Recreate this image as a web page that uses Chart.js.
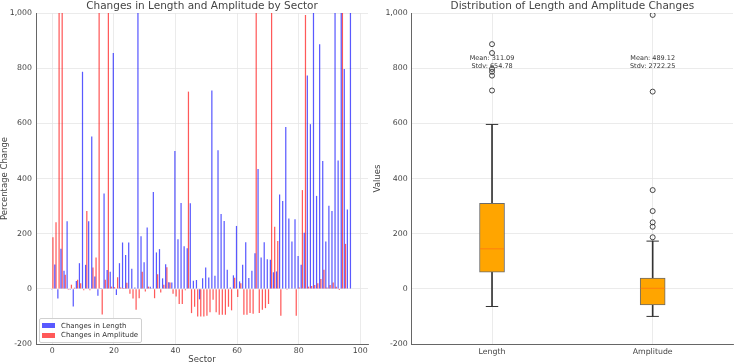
<!DOCTYPE html>
<html>
<head>
<meta charset="utf-8">
<script src="https://cdn.jsdelivr.net/npm/chart.js@4.4.1/dist/chart.umd.min.js"></script>
<style>
  body { margin: 0; background: #fff; width: 746px; height: 364px; overflow: hidden; font-family: "DejaVu Sans", sans-serif; }
  #leftBox { position: absolute; left: 0; top: 0; width: 373px; height: 364px; }
  #rightBox { position: absolute; left: 373px; top: 0; width: 373px; height: 364px; }
  #legend { position: absolute; left: 39px; top: 318px; padding: 2px 3px 2px 0;
            border: 1px solid #d0d0d0; border-radius: 2px; background: rgba(255,255,255,0.85);
            font-size: 7px; color: #333; white-space: nowrap; }
  #legend .item { display: flex; align-items: center; height: 9.5px; }
  #legend .sw { width: 13px; height: 5px; margin: 0 6px 0 2px; flex: none; }
</style>
</head>
<body>
<div id="leftBox"><canvas id="sectorChart" width="373" height="364"></canvas></div>
<div id="rightBox"><canvas id="boxChart" width="373" height="364"></canvas></div>
<div id="legend"></div>
<script>
// sector data (values above 1000 are cut off by the axis)
const sectors = [0,1,2,3,4,5,6,7,8,9,10,11,12,13,14,15,16,17,18,19,20,21,22,23,24,25,26,27,28,29,
  30,31,32,33,34,35,36,37,38,39,40,41,42,43,44,45,46,47,48,49,50,51,52,53,54,55,56,57,58,59,
  60,61,62,63,64,65,66,67,68,69,70,71,72,73,74,75,76,77,78,79,80,81,82,83,84,85,86,87,88,89,
  90,91,92,93,94,95,96,97];

const lengthChange = [-2,88,-35,145,66,245,-3,-64,28,93,787,87,245,552,45,-25,3,346,68,62,
  855,-22,93,168,123,168,73,5,1500,191,96,222,8,351,132,144,38,89,24,23,
  500,180,311,154,147,310,29,32,-38,38,77,41,719,47,502,271,246,69,5,49,
  228,27,87,169,39,66,129,434,114,169,107,105,60,63,342,318,587,255,172,252,
  119,87,203,773,597,1500,337,887,463,172,301,282,1500,465,1500,797,288,1500];

const amplitudeChange = [187,241,1500,1500,51,-3,15,4,33,20,-5,282,-5,77,114,1500,-93,33,1500,8,
  6,42,5,3,22,-18,-35,-76,-34,62,-10,8,2,-34,53,-13,15,78,23,-18,
  -28,-55,-55,-5,715,-88,-65,-100,-100,-100,-98,-85,-40,-85,-94,-94,-94,-65,-78,40,
  -30,20,-94,-94,-88,-90,1500,-88,-76,-70,-55,1500,225,173,-98,0,-3,0,0,-98,
  5,358,993,8,10,14,20,36,69,5,14,23,8,-4,1500,163,0,0];

const yTicks = [-200, 0, 200, 400, 600, 800, 1000];
const sectorTicks = [0, 20, 40, 60, 80, 100];

// box plot summary
const boxLabels = ['Length', 'Amplitude'];
const boxQ1 = [60, -58];
const boxMedian = [145, 2];
const boxQ3 = [310, 39];
const whiskerLow = [-64, -100];
const whiskerHigh = [596, 173];
const outliersLength = [719, 773, 787, 797, 855, 887];
const outliersAmplitude = [187, 225, 241, 282, 358, 715, 993];
const meanLabels = ['Mean: 311.09', 'Mean: 489.12'];
const stdvLabels = ['Stdv: 654.78', 'Stdv: 2722.25'];

Chart.defaults.font.family = '"DejaVu Sans", sans-serif';
Chart.defaults.color = '#444';
Chart.defaults.animation = false;

const gridColor = '#e6e6e6';
const axisColor = '#666';
const tickFont = { size: 7.8 };
const axisTitleFont = { size: 8.5 };
const blue = 'rgba(0, 0, 255, 0.65)';
const red = 'rgba(255, 0, 0, 0.65)';

function yScale(titleText, width) {
  return {
    min: -200, max: 1000,
    afterBuildTicks: s => { s.ticks = yTicks.map(v => ({ value: v })); },
    afterFit: s => { s.width = width; },
    ticks: { font: tickFont, color: '#444', padding: 4 },
    grid: { color: gridColor, drawTicks: false, lineWidth: 0.8 },
    border: { color: axisColor, width: 1 },
    title: { display: true, text: titleText, font: axisTitleFont, color: '#444', padding: 0 }
  };
}

// left: bars by sector
const sectorChart = new Chart(document.getElementById('sectorChart'), {
  type: 'bar',
  data: {
    labels: sectors,
    datasets: [
      { label: 'Changes in Length', data: lengthChange, backgroundColor: blue, borderWidth: 0 },
      { label: 'Changes in Amplitude', data: amplitudeChange, backgroundColor: red, borderWidth: 0 }
    ]
  },
  options: {
    responsive: false,
    layout: { padding: { right: 5 } },
    categoryPercentage: 0.8,
    barPercentage: 1.0,
    plugins: {
      legend: { display: false },
      tooltip: { enabled: false },
      title: { display: true, text: 'Changes in Length and Amplitude by Sector', fullSize: false,
               font: { size: 10.5, weight: 'normal' }, color: '#444', padding: { top: 0, bottom: 0.4 } }
    },
    scales: {
      x: {
        type: 'linear', min: -5.3, max: 102.5, offset: false,
        afterBuildTicks: s => { s.ticks = sectorTicks.map(v => ({ value: v })); },
        afterFit: s => { s.height = 20; },
        ticks: { font: tickFont, color: '#444', padding: 2, maxRotation: 0 },
        grid: { color: gridColor, drawTicks: false, lineWidth: 0.8, offset: false },
        border: { color: axisColor, width: 1 },
        title: { display: true, text: 'Sector', font: axisTitleFont, color: '#444', padding: { top: 0, bottom: -1 } }
      },
      y: yScale('Percentage Change', 36)
    }
  }
});

// legend built from the datasets
const legendEl = document.getElementById('legend');
sectorChart.data.datasets.forEach(ds => {
  const row = document.createElement('div');
  row.className = 'item';
  row.innerHTML = `<span class="sw" style="background:${ds.backgroundColor}"></span><span>${ds.label}</span>`;
  legendEl.appendChild(row);
});

// right: box plot made of floating bars and points
const statsText = {
  id: 'statsText',
  afterDatasetsDraw(chart) {
    const ctx = chart.ctx;
    const xs = chart.scales.x, ys = chart.scales.y;
    ctx.save();
    ctx.font = '6.5px "DejaVu Sans"';
    ctx.fillStyle = '#333';
    ctx.textAlign = 'center';
    ctx.textBaseline = 'middle';
    boxLabels.forEach((lab, i) => {
      const x = xs.getPixelForValue(i);
      ctx.fillText(meanLabels[i], x, ys.getPixelForValue(834));
      ctx.fillText(stdvLabels[i], x, ys.getPixelForValue(807));
    });
    ctx.restore();
  }
};

const pts = (vals) => vals.map((v, i) => ({ x: boxLabels[i], y: v }));

new Chart(document.getElementById('boxChart'), {
  type: 'bar',
  data: {
    labels: boxLabels,
    datasets: [
      { data: boxQ1.map((q, i) => [q, boxQ3[i]]), backgroundColor: '#ffa500', borderColor: '#6b6b6b',
        borderWidth: 1, borderSkipped: false, barThickness: 25, grouped: false, order: 2 },
      { data: boxQ3.map((q, i) => [q, whiskerHigh[i]]), backgroundColor: '#333', borderWidth: 0,
        barThickness: 1, grouped: false, order: 3 },
      { data: whiskerLow.map((w, i) => [w, boxQ1[i]]), backgroundColor: '#333', borderWidth: 0,
        barThickness: 1, grouped: false, order: 3 },
      { type: 'line', data: pts(whiskerHigh).concat(pts(whiskerLow)), showLine: false,
        pointStyle: 'line', pointRadius: 6.2, borderColor: '#333', borderWidth: 1, order: 1 },
      { type: 'line', data: pts(boxMedian), showLine: false,
        pointStyle: 'line', pointRadius: 12, borderColor: '#ff7f0e', borderWidth: 1, order: 0 },
      { type: 'line', showLine: false, pointStyle: 'circle', pointRadius: 2.5,
        pointBackgroundColor: 'rgba(0,0,0,0)', borderColor: '#333', borderWidth: 0.9, order: 1,
        data: outliersLength.map(v => ({ x: 'Length', y: v }))
          .concat(outliersAmplitude.map(v => ({ x: 'Amplitude', y: v }))) }
    ]
  },
  options: {
    responsive: false,
    layout: { padding: { right: 4 } },
    plugins: {
      legend: { display: false },
      tooltip: { enabled: false },
      title: { display: true, text: 'Distribution of Length and Amplitude Changes', fullSize: false,
               font: { size: 10.5, weight: 'normal' }, color: '#444', padding: { top: 0, bottom: 0.4 } }
    },
    scales: {
      x: {
        offset: true,
        afterFit: s => { s.height = 20; },
        ticks: { font: tickFont, color: '#444', padding: 3 },
        grid: { color: gridColor, drawTicks: false, lineWidth: 0.8, offset: false },
        border: { color: axisColor, width: 1 }
      },
      y: yScale('Values', 38.7)
    }
  },
  plugins: [statsText]
});
</script>
</body>
</html>
